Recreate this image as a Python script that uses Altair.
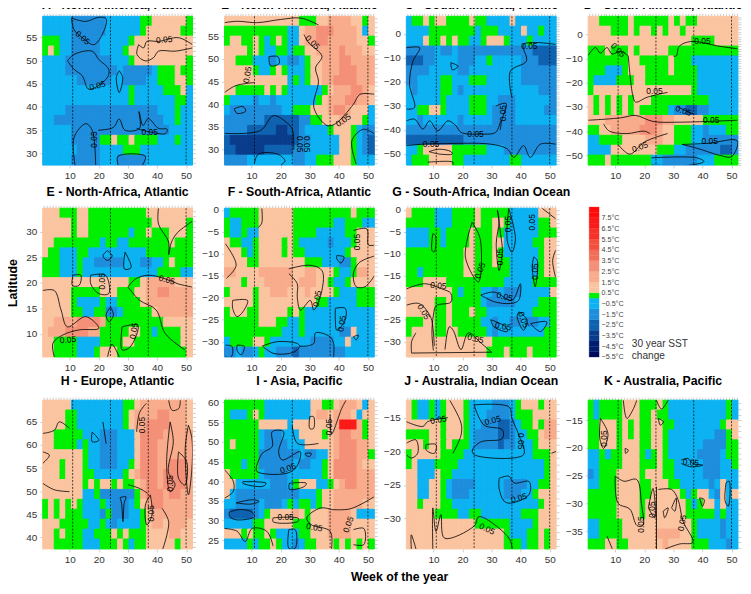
import altair as alt
import pandas as pd

FONT = "Liberation Sans"
WEEK_DOMAIN = [0.7, 52.2]
SEASON_WEEKS = [11, 24, 37, 50]
WEEK_LABELS = [10, 20, 30, 40, 50]
CODE_VALUES = dict(n=-3.5, d=-2.5, b=-1.5, c=-0.5, g=0.25, p=1, q=2, r=3, s=4, t=7)
THRESHOLDS = [-5, -4, -3, -2, -1, 0, 0.5, 1.5, 2.5, 3.5, 4.5, 5.5, 6.5, 7.5]
COLOURS = ["#000A5A", "#001C6E", "#0A3C8C", "#0F62B0", "#1E8EDC", "#0CB2F2", "#00F000",
           "#FBC4A0", "#F8AC8C", "#F49078", "#F26E58", "#F3503E", "#F63228", "#FA1A18", "#FF0A0A"]
LEGEND_TICKS = [7.5, 6.5, 5.5, 4.5, 3.5, 2.5, 1.5, 0.5, -0.5, -1.5, -2.5, -3.5, -4.5, -5.5]
LEGEND_STEPS = [-5.5, -5, -4.5, -4, -3.5, -3, -2.5, -2, -1.5, -1, -0.5, 0, 0.5, 1, 1.5, 2, 2.5, 3,
                3.5, 4, 4.5, 5, 5.5, 6, 6.5, 7, 7.5, 8]

A_GRID = ["cccccbbbbbbccccccggppppppg", "cccccbbbbbbccccccgppppppgg", "gggccbbbbbcccccgpppppppppp",
          "gpgccbbbbbccccgppppppppppp", "ccccbbbbbbbbcccgpppppppppg", "ccccbbbbbbbbbcbbbbbcgggpgg",
          "ccccccbbbbbbccbbbbccgggppg", "cccccccccccccccgcccccgggpc", "cccccccccccccccgcccccccggc",
          "ccccbbbbbbbbbbbbbbbbcccgcc", "ccbbbbbbbbbbbbbbbbbbbccgcc", "cccccbbbbbbbbbbbbbbbbbcccc",
          "cccccbbbbbggpggpggggcccgcc", "ccccccbbbbccccgggccccccccc", "cccccbbbbbcccbbbbbcccccccc"]
B_GRID = ["pppppppppppppgggppqqqqppgp", "gggggggggggccpqqrrrqqqqpcp", "gppggpgcgpgccpqqrrqqqqqppg",
          "ppppgpgccggcggppqqqqrqqqpp", "ppgggcccbccbbcgppqqqrrqqqq", "pppppgccgpgcccgppqqqrrrqqq",
          "pppppppppppcgcgppqqrrrrqqq", "ppgggggpgpgccccccgpqqqrrqp", "gccccbccbcccccccgpqqqrrqqp",
          "cbbbbbbbbbccgggpppqrrqpppc", "bbbbbbbddddddbbggpppqpppgc", "bbbbdddddnnddbccccgpppgcbb",
          "dnnnnnnnnnnndbbcccccppgcbd", "ddnnnnndddddbbccccccppgcbd", "bbbbccccccccbbccgggpppgccc"]
C_GRID = ["cggpgppggggpggccccpccccccc", "ccccggggggggcgggccccpccgcc", "cccpggpgpggccgpppgcccgcccc",
          "bbbbbcbbcbbbbbbbbbbbbbdddd", "dddbbccccbbbccgcccccbbbddd", "bbbbcccccbbcccccccccbbbbbb",
          "bbccccggcccgggccccccbbbbbb", "cbccccggcbcccccccccccccbbb", "ccccccgccccgggccbbbccccccb",
          "ccggppgccccgggcbbbbcccccbb", "ccbccccccbcccccbbbbccccccc", "bbbbbbbbbbbbbbbbbbbbbbbbbb",
          "ddddddddddbbbbbbbbbbbbbbbb", "ccgpppppggggggcccbbbbbbbbb", "cgggppppggccccccccggcccccc"]
D_GRID = ["ppgggggpggggggpgpggppppppp", "ppppgggpgppgpgppgppppppppp", "ppppppppppppppppppggggpppp",
          "gggpgggpgpppppgggggggggggg", "gggggggppgggggpgggcccccccc", "gggcccgpppggggpggggccccccc",
          "gccccgggppgggggggggccccccc", "gpppppppppppppppppgccccccc", "pgpgpgpgpppggggggggggccccc",
          "pgpgpgpgpgggggcbbddbbccccc", "pppqqqqqqqrrrqqpppppgggggg", "ggppqqqqqrrrqppgggccbcccgg",
          "ccggggppppqqqppgggccbbbbbb", "ccccppppppppgggccbbbbbbddb", "gggpgggggggccbbbbbbcccgggg"]
E_GRID = ["pppgggppggggggggggpppppppp", "pppppgppgggggggggggppppppg", "pppppgppgggggggcggpgggpppg",
          "ppggggggggcggccgggggggpggg", "pggcccggccccccccccgggggggg", "gggcccgccbbbbbcccbbccgpggg",
          "gggcccgcccccccccccccggggcc", "pppppppppppppppggpqqqqqppp", "pppppgggggpppgggppqqrrqqqq",
          "pppppgccccgccggggpqqqqqqqq", "pppppggccggbbcgggggpqqqqqq", "ppqqqqrrrrqggggggggggppppp",
          "pqqqrrrrqqgggggppggcggggpp", "ppggggccccggggppggggggggpp", "ppggggcccgpppggggggggggggp"]
F_GRID = ["cgggggppppppggggggggggpggg", "gccgggppppppgggggggccgggcc", "gccgccppppppggggcccccggppp",
          "pggccgppppgpgcccccbcccgppp", "pppgcgppppgpggcccccccgpppp", "ppppggppppppppgggcccbbgppp",
          "qqppppqqqqqqppqqpppgccgqqp", "pppgpppqqqqqpqqqppgccgpppp", "gppppgppqqqpppqppppgcccggg",
          "pppppgppppppppppggcccccggg", "gpppggpppppgpgcccccccccccc", "ggggggpppggccgcccccccccccc",
          "ggggggggggcccgccccccbbpccc", "cggggppgcccccccbbbbccpcccc", "bbcbbcgccbbbdbbbbbbbbccccc"]
G_GRID = ["pggggcccggggpgggggcccccppp", "gggggcccggggpggppgcccccggp", "ccccggcggggpgggpgccccccggg",
          "ccccggcggggpgggppcccccggpp", "ggggggggggppgggpgccccccgpp", "ggggggggggppgggpggcccccgpp",
          "ggcgggggggppggggggcccccgpp", "gggppppggggggggggcccccgggg", "ppppppppgcgggccbcbbbcccccp",
          "pppppggpgggggcbbbbbccccggg", "pppppggpgggpggccccccccgggg", "gggppggpgggggccbccbbcbbccg",
          "gppppggppgggggcbccccccccgg", "pppppppppppppppgggggggggg", "ppppppppppppppgggpgggpgggg"]
H_GRID = ["pppppcccccccccggpqqqqqqqqp", "ppppggccccccccgpqqqqrrqqqp", "ppppggccccccccgpqqrrrrqqqp",
          "ppgggggcccbbbcccprrrrqqqqq", "ppggggcgccbbbcccprrrqqqqqq", "pppppppgccbbbcccprrrqqqqqq",
          "pppgpppgccbbbccgprrrqqrrrq", "pppgpppggcccccgpqrrrqrrrrq", "pppppppgpgppgpggpqrrqrrrrq",
          "pppppppccgbbbbbbgqrrrqrrqq", "gpgpgpgcccgcbbbcgpqrrqqqqq", "gpgpgggcccbgbbbccgpqqqqqqq",
          "pppgggggccgcbccccgpqqpqqqp", "ppgpgggccgggpgpgggppppqqpp", "ppgggggcccgggpgcggpppppgpp"]
I_GRID = ["gggggggccccccccppggpqqqpcp", "gcccgpgccccccccpqqpqqqpcpp", "ggggggpppppcpppppppqtttqgp",
          "ggggggcbbbcccppppgpqrrqqgp", "gpggggcbbbbcccpppppqrrrqqp", "ggggggbbbbbbbcbbccpqrrrqqg",
          "gggcggbbbbbbcbbccgprrrrqpp", "pgggggcbbbbccccccgprrrrqqq", "ppccccccbbbcgpppccgpqrrqqq",
          "pcbbbbbbbbbbbcccgppqqqqqqq", "ccbbbbcbbbcgcggcgppqqqqqpp", "bddddbcgppppqpgpppqqqqpccc",
          "cccccggpppppgggpppqqqqpppp", "pppgpggpgccccggpppqqqqpppp", "ccccgcggpgccbcggpppgpgpgpg"]
J_GRID = ["pgccgcgpppgccccbbbcgpppgpp", "pgccgcgpppgcccbbbbcgggpppp", "ppppppgpppgccbbbddbcggpgqq",
          "ggggppgpppgcbbbbddbccggpqq", "pppgppgpgggcbbbbdbbcccgppp", "gpppppggggccccccccccccgggp",
          "gpcccggggcccccccccccccccgp", "ppcccpggccccccccccccccccgp", "ppccppgcbbbbcccccbbbbccggp",
          "ppccppgcbbbccccccbbbccgppp", "ppgpppggcccccccccccccccgpp", "pppppggggccggcccccccgggppp",
          "ppppppppppppggggggccccgppp", "pppppppppppppppppgcccggpgp", "pppppppppppppppppgggcggpgp"]
K_GRID = ["gcggggpppgggpgccccccccccgc", "gcggggpppggpggccccccccccgc", "ggpppgpgpggppggccccccccgpp",
          "ggpppgpgpggppgccccccccbbgp", "ggpppgpppggppgccccccbbbbgg", "ccgcggpppgcgpgcccccbbbbcgg",
          "ccggggpppgggpggcccccbbbccg", "bcgggppppgpppggcccccbbbccc", "ccgggppppggpppggcccccbcpcc",
          "gggggppppggpppppgcgppcbpcp", "gggggppppgpppppppgcgppcpcc", "gggggppppgpppppppgggggcgcc",
          "ccggggppppppppppppgccccbcc", "ccggggppppppqqqqppgccccbcc", "gggppggppppppqppppgggcccbc"]

A_LINES = [[(10.6,59.1),(15.5,58.4),(20,59.3),(22.5,59),(21.7,56.3),(18.3,53.4),(14.3,54.9),(11.5,56.6),(10.6,59.1)],
           [(9.2,49.9),(11.5,51.3),(17.7,52),(20,50.2),(23.4,48.1),(22.9,46.3),(16.6,43.8),(14.3,46.7),(11.5,48.1),(9.2,49.9)],
           [(33.7,53.4),(35.4,52.7),(36.5,54.1),(40.5,54.1),(47.4,54.9),(52.2,53.4)],
           [(33.7,53.4),(33.1,51.3),(36,49.9),(38.8,50.6),(40.5,52),(46.2,52),(52.2,52.7)],
           [(27,47.8),(28.2,46.3),(27,43.1),(26,46.3),(27,47.8)],
           [(11.8,27.5),(11.5,33.5),(15.5,36.4),(17.7,35),(18.9,27.5)],
           [(19.8,35),(25,35.6),(27,37.4),(29,35),(34,35.4),(33.8,39),(35.2,36),(37,37.5),(40.5,35.4),(43.5,35.2),(43,34.3),(37,34.7),(33,35.4)],
           [(26.6,27.5),(26.6,29.4),(36,29.4),(35,27.5)]]
A_LABELS = [(14.5,54.9,40),(19.5,44.6,345),(18.5,33,270),(42.5,54.5,355),(37.5,34.6,0)]
B_LINES = [[(0.7,58),(5,58.3),(12,58),(20,58.7),(27,59),(33,57.5)],
           [(28,55.4),(29.7,53.5),(34.2,50.6),(32,48),(33,45.1),(31.4,39.3),(36,35.3),(38.8,35.7),(45,40),(47.3,42.2),(52.2,42.2)],
           [(0.7,42.6),(4.5,44.1),(11,44.8)],
           [(0.7,33.6),(13,34.2),(17.5,37.5),(22,36),(24,34.5),(24.5,30)],
           [(46,26.8),(44.5,32),(48.5,34.5),(52.2,33.5)],
           [(11,27),(12.3,29),(19,29),(21.5,27.5),(20,26.6)],
           [(16,50.5),(19,50.5),(19.5,49),(16.5,48.5),(16,50.5)],
           [(4,39),(7,39.5),(8,38.5),(5,38),(4,39)]]
B_LABELS = [(8.5,46.5,280),(31,53.7,45),(41.5,36.5,325),(26.5,31.2,90),(29,31.2,90)]
C_LINES = [[(0.7,-46.5),(6.4,-45.9),(12.6,-45.7),(29.7,-45.9),(35.4,-47.9),(37.7,-51.4),(41,-46.5),(43.3,-51.4),(46.8,-45.9),(52,-45.9)],
           [(0.7,-36.2),(3.5,-35.5),(6.4,-39.6),(8.7,-36.2),(11.5,-40.3),(15,-36.2),(17.8,-38.3),(19.5,-41),(26.3,-41.7),(31.4,-41),(33.1,-36.2)],
           [(0.7,-5.8),(5.3,-5.8),(3,-11.3),(1.8,-21),(3.5,-30.7),(0.7,-31.3)],
           [(52,-4.4),(41,-4.4),(42,-11.3),(36.5,-15.5),(37,-26.5)],
           [(8.1,-53.4),(16.7,-53.4),(16.7,-54.5)],
           [(8.5,-49),(12,-48),(16,-49),(16.5,-50),(12,-50),(8.5,-49)],
           [(31.5,-30),(35,-29),(33.5,-36),(33,-40)],
           [(16,-12),(18.5,-13.5),(16.5,-15),(16,-12)]]
C_LABELS = [(43,-5,0),(24.5,-41.7,0),(9.2,-45.9,0),(34,-33,270)]
D_LINES = [[(0.7,-8.8),(3.2,-5.5),(4.9,-7.8),(7.2,-5.5),(8.9,-8.2),(11.7,-7),(14.5,-9)],
           [(30,-9),(31,-9),(32,-5),(36,-3),(46,-5),(52,-6)],
           [(14.5,-9),(16,-25),(17,-28),(21,-26),(28,-24)],
           [(0.7,-35.5),(12,-34.5),(17,-33.5),(23,-36),(32,-36.3),(52,-35.5)],
           [(6,-37),(8,-40),(14,-41),(20,-40),(22,-41)],
           [(11,-45.5),(15,-49.5),(20,-44.5),(28,-41)],
           [(33,-45.5),(42,-45),(52,-44),(50,-50.5),(46,-50),(38,-47),(33,-45.5)],
           [(22.5,-51),(38,-51),(40.5,-52.5),(36,-54),(22.5,-54)],
           [(31.5,-30),(37,-33)]]
D_LABELS = [(11,-6.5,45),(40,-3,0),(23.5,-23.6,0),(18.5,-46.5,340),(33.5,-31.5,20),(43,-35.5,0),(42.5,-44,0)]
E_LINES = [[(0.7,18.5),(4.7,18.5),(7,14.7),(9.2,11.4),(15.5,13.4),(20,11.1),(13.2,10.8),(7.6,9.8),(4.2,8.2),(4.7,5.5)],
           [(30,19.2),(32.7,20.8),(37.1,21.5),(42.8,20.8),(47.3,19.8),(52,19.2)],
           [(30,19.2),(34,16.6),(39.7,14.7),(42.8,10.1),(49.6,6.9)],
           [(40.5,34.6),(40.5,31.5),(44,28),(44,25.5),(45,28),(47,29.8),(52,32)],
           [(17.2,21.5),(22.3,21.5),(23.4,17.9),(20,17.9),(17.2,19.8),(17.2,21.5)],
           [(11.1,21.5),(13.8,21.5),(13.2,19.5),(10.9,19.5),(11.1,21.5)],
           [(22.9,26.3),(24.6,25.3),(22.9,24.4),(21.4,25.3),(22.9,26.3)],
           [(24,15.3),(25,13.7),(23.5,12.4),(22.5,13.7),(24,15.3)],
           [(29,26),(31.1,23),(28.8,22.7),(29,26)],
           [(28,11.4),(33.4,11.7),(30.8,7.5),(28,6.9),(28,11.4)],
           [(23,5.5),(24.5,8),(27,5.5)]]
E_LABELS = [(9.4,8.9,355),(21,20.3,270),(43.4,20.6,15),(32,10.6,280)]
F_LINES = [[(1,-7.7),(4.7,-12.6),(1.3,-15.6)],
           [(13.5,0.4),(13.5,-3),(12.3,-4)],
           [(22.8,-13.4),(30.2,-12.6),(34.2,-13.8),(34.2,-18.3),(31.4,-22.8),(30.2,-20.6),(26.8,-22.8),(25.7,-19.8),(25.7,-16.8),(22.8,-14.5)],
           [(45,-4.7),(49.6,-4.3),(50.2,-8),(52.2,-8)],
           [(52.2,-10.5),(47,-12),(45,-14.5),(46,-17.5),(49,-17.5),(52.2,-15)],
           [(38.8,-22.4),(42.2,-22.4),(42.2,-25),(39.3,-27.4),(38.8,-25),(38.8,-22.4)],
           [(13.7,-31),(18.9,-30),(25.7,-30.4),(26.8,-31),(31.4,-30.4),(32,-28),(37,-28.9),(38.2,-30.4),(38.2,-33.5)],
           [(13.7,-31),(17.7,-32.7),(24.5,-32.4),(26.8,-31)],
           [(1,-30.8),(3.3,-31.1),(3,-33.5),(1,-33.5)],
           [(5,-30.8),(7.5,-31.1),(6.4,-33),(5,-32),(5,-30.8)],
           [(3.5,-20.6),(8.6,-20.6),(7,-23.2),(5,-24.3),(3.5,-22.4),(3.5,-20.6)],
           [(39.3,-10.4),(41.8,-10.7),(40.7,-12.1),(39.3,-11.1),(39.3,-10.4)],
           [(45,-28.9),(46.7,-28.5),(46,-29.6),(45,-28.9)]]
F_LABELS = [(46.1,-7.3,270),(32.5,-20.2,280),(41,-25.9,280)]
G_LINES = [[(0.7,-18),(7,-16.8),(13,-18),(16,-19),(16,-21),(11,-21.8),(10,-24),(9.5,-28),(10,-32)],
           [(0.7,-21.7),(5,-21.3),(9,-24.3),(10,-28),(10.3,-31)],
           [(2.5,-32.6),(30,-32.4)],
           [(30,-32.4),(26.5,-30.4),(22,-28),(19.5,-31.8),(16.8,-27.4),(15.5,-26.6),(14,-31.8)],
           [(2.5,-32.6),(2.5,-30),(4,-28)],
           [(23.3,-2.8),(26.1,-6.6),(25.5,-16.4),(21,-10.7),(23.3,-2.8)],
           [(32,0),(33.1,-5.4),(33.7,-9.2),(32.6,-13.8),(31.6,-7.7),(32.6,-2.4),(32,0)],
           [(35.9,0.4),(38.2,-6.6),(37,-9.6),(35.4,-7),(35.9,0.4)],
           [(9.8,-5.4),(10.7,-5.8),(10.3,-9.6),(9.5,-9.2),(9.8,-5.4)],
           [(44.5,-10.7),(45.7,-11.5),(45,-17.5),(44,-13),(44.5,-10.7)],
           [(26.3,-19.4),(30.9,-18.7),(37,-20.6),(39.9,-16.8),(39.3,-20.6),(36.5,-21.3),(30.9,-20.9),(26.3,-19.4)],
           [(29.7,-25),(34.8,-26.6),(35.4,-27.7),(30.8,-26.6),(29.7,-25)],
           [(39.4,-23.2),(42.2,-25),(41,-27.4),(38.8,-24.3),(39.4,-23.2)],
           [(43.4,-25.9),(49,-25.5),(46.8,-27.7),(43.4,-25.9)],
           [(47.4,0.4),(52,-2)],
           [(52,-9.2),(51,-11.5),(52,-15.3)]]
G_LABELS = [(11.7,-17.2,5),(6.7,-23.2,60),(26,-13.8,290),(33,-10.7,270),(35.5,-3.2,270),(34.5,-19.7,15),(34,-26.5,10),(41,-25,70),(45,-14,270),(24.5,-29.3,15),(44,-2.8,270)]
H_LINES = [[(0.7,62.5),(4.7,63.2),(6.4,65),(9.9,63.6)],
           [(0.7,58.5),(3,57.8),(0.7,56)],
           [(0.7,51.7),(4.7,50.3),(9.9,49.9)],
           [(30,51.4),(34,50.6),(36.8,49.5)],
           [(33,62.8),(34,67),(36.3,69)],
           [(44.5,65),(45.6,60.7),(43.9,54.2),(46.2,51.3),(44.5,49.9),(43.3,55.7),(44.5,65)],
           [(50.8,64.3),(49.7,59.3),(50.8,49.2),(52,54.9),(52,61.4),(50.8,64.3)],
           [(37.7,49.2),(38.3,44.9),(36.5,42.7),(36,47),(37.7,49.2)],
           [(41.7,46.3),(44,43.4),(42,37.5)],
           [(27.3,48.6),(29.3,48.8),(28.7,47.4),(28.3,43.4),(27.8,47.4),(27.3,48.6)],
           [(17.7,62.8),(20,61),(17.7,60.7),(17.7,62.8)],
           [(21.4,65),(22.5,60.3)],
           [(44,69.7),(45.2,67.5),(47.5,67.9),(48,69.7)],
           [(47.4,58.5),(50.2,56.4),(49.6,51.3),(47.4,52.8),(47.4,58.5)]]
H_LABELS = [(34.8,64.3,270),(38,45.2,270),(44.5,51.7,270)]
I_LINES = [[(11.8,44.1),(13.7,47.1),(17.1,48.8),(17.1,52.6),(21,52.6),(19.3,47.5),(20.5,45.4),(26.7,47.5),(25.5,43.7),(22,42),(11.8,42.5),(11.8,44.1)],
           [(2.4,32.2),(5.8,32.8),(9.8,32.3),(11,31),(4.7,30.2),(2.4,31.1),(2.4,32.2)],
           [(4.7,34.5),(10.3,35.3),(12.6,34.9),(9.8,34.2),(4.7,34.5)],
           [(7,39.9),(15,39.5),(13.9,38.7),(7,39.5),(7,39.9)],
           [(23,39.5),(28.8,39.5),(28.2,38.7),(23,38),(23,39.5)],
           [(0.7,42.9),(3.7,40),(3.7,37.4),(0.7,35.7)],
           [(37.5,22.8),(37,27.3),(30.4,29),(29,30.7),(33.7,33.2),(37.6,32.8)],
           [(37.6,32.8),(44,33),(52,36)],
           [(37,56.8),(37.5,52),(41,58.5),(42.5,60.6)],
           [(24,54),(25.8,49.6),(33,49.6)],
           [(22.8,27.7),(25,27.7),(25,23),(22.8,23),(22.8,27.7)],
           [(0.7,28),(5,27.3),(7.8,24.7),(10.2,28),(15.2,27.3),(17.4,23.5)],
           [(17.4,30.7),(26,30.6),(26,29.8),(17.4,29.7),(17.4,30.7)],
           [(30,56.4),(31.3,56.4),(31.3,53.4),(30,53.4),(30,56.4)],
           [(28.5,47.1),(30.5,47.1),(30,46.3),(28.5,46.7),(28.5,47.1)],
           [(45,27.7),(48.6,28),(48.6,23.9),(45,23.9)]]
I_LABELS = [(36.5,53.8,270),(22.5,43.3,340),(21.7,30.8,0),(31.6,28.3,10),(43.2,29,290)]
J_LINES = [[(0.7,-15.6),(6.4,-16.3),(8,-15.6),(15,-15)],
           [(15.6,-12.4),(19.5,-15.8),(19.5,-17.6),(16.7,-20.3)],
           [(0.7,-18.8),(4,-18.3),(4.6,-20.3),(2.4,-21),(0.7,-20.5)],
           [(7.5,-19),(10.9,-19),(10.3,-20.3),(7.5,-19.8),(7.5,-19)],
           [(24,-13.1),(36,-13.4),(37,-15.1),(39.4,-17.6),(41,-20.5),(24,-20.5),(23.4,-19.8),(26.3,-18.6),(33.7,-18.1),(33.7,-16.8),(27.4,-16.1),(24,-13.1)],
           [(32.6,-24),(36,-23.7),(37.7,-24.7),(42.9,-24.5),(42.9,-26.4),(36.6,-27.7),(34.3,-27.4),(32.6,-25.5),(32.6,-24)],
           [(9.8,-34.5),(9.8,-28.4),(10.9,-31.9),(12.6,-29.4),(13.8,-32.9),(24,-31.1),(25.7,-29.7),(36,-32.9),(37.1,-34.5)],
           [(2.4,-34.5),(2.4,-32.4),(4,-34.5)],
           [(50.6,-20.3),(52.2,-20)]]
J_LABELS = [(11.7,-15.3,350),(30.4,-15.4,345),(40.1,-18.5,90),(39.4,-26.9,345),(28.5,-31.5,25)]
K_LINES = [[(12.8,-11.4),(14,-14.7),(16.3,-12.9),(17.4,-11.4)],
           [(4.9,-14.7),(7.5,-17.4),(6,-20.1),(4.7,-18.3),(4.9,-14.7)],
           [(10,-25.1),(13,-26),(17.4,-25.7),(19,-30),(19.5,-34),(17.5,-34),(15,-31),(11,-30),(10,-25.1)],
           [(24.2,-11.4),(25.9,-13),(28.2,-11.4)],
           [(24.8,-27.5),(29.4,-27.5),(31.6,-29.3),(33.3,-33.2),(36.7,-37),(32.2,-37.3),(27.2,-38.2)],
           [(24.2,-27),(24.2,-38.2)],
           [(21.4,-30.8),(23,-27.3),(23.6,-32.6),(21.4,-30.8)],
           [(48.1,-26.3),(49.2,-26),(48.9,-30.5),(47.8,-29.6),(48.1,-26.3)],
           [(39,-29),(40.6,-29.3),(40,-30.5),(39,-29)],
           [(24.8,-14.7),(26.6,-15.3),(25.5,-15.9),(24.8,-14.7)],
           [(13.4,-20.1),(14.5,-20.4),(13.6,-21),(13.4,-20.1)],
           [(32.7,-22.2),(35,-21.9),(36.7,-22.8),(40.1,-23.1),(36.1,-23.4),(32.7,-22.8)],
           [(7.2,-35.9),(9,-38.2)],
           [(26.5,-31.4),(28.2,-30.8),(27,-32.6),(26.5,-31.4)],
           [(29.4,-30.8),(31,-29),(30.5,-31.4),(29.4,-30.8)]]
K_LABELS = [(6.3,-18.3,270),(19,-33.8,270),(22.7,-31.1,270),(33,-33.5,280),(36,-22.6,5)]

# title, latitude top, latitude bottom, label step, grid, lines, labels, title offset
PANELS = [
    ("A - North-America, Pacific", 59.5, 27.5, 5, A_GRID, A_LINES, A_LABELS, 1),
    ("B - North-America, Atlantic", 59.4, 26.6, 5, B_GRID, B_LINES, B_LABELS, 1),
    ("C - South-America, Pacific", 7.3, -54.6, 10, C_GRID, C_LINES, C_LABELS, 1),
    ("D - South-America, Atlantic", 7.4, -54, 10, D_GRID, D_LINES, D_LABELS, 1),
    ("E - North-Africa, Atlantic", 34.6, 5.5, 5, E_GRID, E_LINES, E_LABELS, 6),
    ("F - South-Africa, Atlantic", 0.4, -33.5, 5, F_GRID, F_LINES, F_LABELS, 6),
    ("G - South-Africa, Indian Ocean", 0.4, -33.5, 5, G_GRID, G_LINES, G_LABELS, 6),
    ("H - Europe, Atlantic", 69.7, 37.5, 5, H_GRID, H_LINES, H_LABELS, 9),
    ("I - Asia, Pacific", 60.6, 22.8, 5, I_GRID, I_LINES, I_LABELS, 9),
    ("J - Australia, Indian Ocean", -12.4, -34.5, 5, J_GRID, J_LINES, J_LABELS, 9),
    ("K - Australia, Pacific", -11.4, -38.2, 5, K_GRID, K_LINES, K_LABELS, 9),
]

colour_scale = alt.Scale(type="threshold", domain=THRESHOLDS, range=COLOURS)
W, H = 151, 150
N_COLS, N_ROWS = 26, 15


def panel(title, top, bottom, step, grid, lines, labels, offset, y_title=None, x_title=None):
    span = (WEEK_DOMAIN[1] - WEEK_DOMAIN[0]) / N_COLS
    rows = []
    for j, row in enumerate(grid):
        row = row.ljust(N_COLS, row[-1])[:N_COLS]
        for i, code in enumerate(row):
            rows.append(dict(w0=WEEK_DOMAIN[0] + i * span, w1=WEEK_DOMAIN[0] + (i + 1) * span,
                             lat0=top - j * (top - bottom) / N_ROWS,
                             lat1=top - (j + 1) * (top - bottom) / N_ROWS,
                             sst=CODE_VALUES[code]))
    cells = pd.DataFrame(rows)
    line_rows = [dict(id=k, o=o, week=p[0], lat=p[1]) for k, ln in enumerate(lines) for o, p in enumerate(ln)]
    line_df = pd.DataFrame(line_rows)
    label_df = pd.DataFrame(labels, columns=["week", "lat", "angle"]).assign(t="0.05")
    lat_all = [v for v in range(int(bottom) - 1, int(top) + 2) if bottom <= v <= top]
    lat_main = [v for v in lat_all if v % step == 0]

    common = dict(domain=False, grid=False, tickColor="#cfcfcf", tickSize=3, labelFont=FONT,
                  labelFontSize=10, labelColor="#333333", labelPadding=3, labelOverlap=False, title=None)
    x_kw = dict(common, values=WEEK_LABELS)
    y_kw = dict(common, values=lat_main)
    minor = dict(domain=False, grid=False, tickColor="#cfcfcf", tickSize=3, labels=False, title=None)
    if y_title:
        y_kw.update(title=y_title, titleFont=FONT, titleFontSize=12.4, titleFontWeight="bold",
                    titleColor="black", titleX=-23, titleY=H / 2, titleAngle=270, titleAlign="center")
    if x_title:
        x_kw.update(title=x_title, titleFont=FONT, titleFontSize=12.4, titleFontWeight="bold",
                    titleColor="black", titleX=176, titleY=35, titleAlign="center", titleBaseline="bottom")
    x_scale = alt.Scale(domain=WEEK_DOMAIN, nice=False, zero=False)
    y_scale = alt.Scale(domain=[bottom, top], nice=False, zero=False)

    rect = alt.Chart(cells).mark_rect(strokeWidth=1).encode(
        x=alt.X("w0:Q", scale=x_scale, axis=alt.Axis(**x_kw)),
        x2="w1:Q",
        y=alt.Y("lat0:Q", scale=y_scale, axis=alt.Axis(**y_kw)),
        y2="lat1:Q",
        color=alt.Color("sst:Q", scale=colour_scale, legend=None),
        stroke=alt.Stroke("sst:Q", scale=colour_scale, legend=None),
    )
    contour = alt.Chart(line_df).mark_line(color="black", strokeWidth=0.8, clip=True,
                                           interpolate="catmull-rom").encode(
        x=alt.X("week:Q", scale=x_scale, axis=alt.Axis(values=list(range(1, 53)), **minor)),
        y=alt.Y("lat:Q", scale=y_scale, axis=alt.Axis(values=lat_all, **minor)),
        detail="id:N", order="o:Q")
    season = alt.Chart(pd.DataFrame(dict(week=SEASON_WEEKS))).mark_rule(
        color="black", strokeWidth=0.7, strokeDash=[2, 1.5]).encode(
        x=alt.X("week:Q", scale=x_scale, axis=None))
    text = alt.Chart(label_df).mark_text(font=FONT, fontSize=8.5, color="black").encode(
        x=alt.X("week:Q", scale=x_scale, axis=None), y=alt.Y("lat:Q", scale=y_scale, axis=None),
        text="t:N", angle=alt.Angle("angle:Q", scale=None))
    return alt.layer(rect, season, contour, text).resolve_axis(x="independent", y="independent").properties(
        width=W, height=H,
        title=alt.TitleParams(title, font=FONT, fontSize=12.4, fontWeight="bold", color="black",
                              offset=offset, anchor="middle"))


def legend_panel():
    steps = pd.DataFrame(dict(lo=LEGEND_STEPS)).assign(
        hi=lambda d: d.lo + 0.5, mid=lambda d: d.lo + 0.25)
    axis = alt.Axis(values=LEGEND_TICKS, orient="right", domain=False, ticks=False, grid=False,
                    labelExpr="format(datum.value, '.1f') + '°C'", labelFont=FONT, labelFontSize=7.2,
                    labelColor="#444444", labelPadding=2, labelOverlap=False, title=None)
    y_scale = alt.Scale(domain=[-5.5, 8.39], nice=False, zero=False)
    bar = alt.Chart(steps).mark_rect(strokeWidth=0.3).encode(
        x=alt.value(1), x2=alt.value(11),
        y=alt.Y("lo:Q", scale=y_scale, axis=axis), y2="hi:Q",
        color=alt.Color("mid:Q", scale=colour_scale, legend=None),
        stroke=alt.Stroke("mid:Q", scale=colour_scale, legend=None))
    caption = alt.Chart(pd.DataFrame(dict(t=["30 year SST", "change"], py=[137, 149]))).mark_text(
        font=FONT, fontSize=10.2, color="#333333", align="left", baseline="middle").encode(
        x=alt.value(44), y=alt.Y("py:Q", scale=None), text="t:N")
    return alt.layer(bar, caption).resolve_scale(y="independent").properties(width=11, height=H)


charts = []
for idx, p in enumerate(PANELS):
    kw = {}
    if p[0].startswith("E"):
        kw["y_title"] = "Latitude"
    if p[0].startswith("I"):
        kw["x_title"] = "Week of the year"
    charts.append(panel(*p, **kw))
    if idx == 6:
        charts.append(legend_panel())

chart = alt.concat(*charts, columns=4, spacing={"row": 43.5, "column": 32.3}).properties(
    bounds="flush", padding={"left": -1, "top": -11, "right": 0, "bottom": 0}
).configure_view(stroke=None)

chart.save("out.html", embed_options={"renderer": "svg", "actions": False})
